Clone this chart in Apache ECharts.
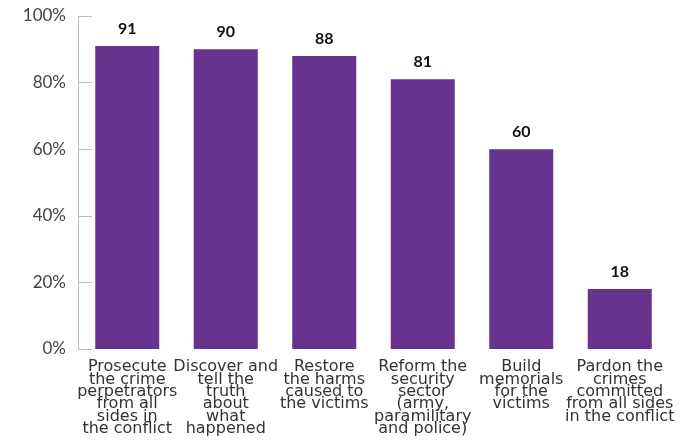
<!DOCTYPE html>
<html><head><meta charset="utf-8">
<script src="https://cdn.jsdelivr.net/npm/echarts@6/dist/echarts.min.js"></script>
<style>html,body{margin:0;padding:0;background:#fff}#c{width:695px;height:444px}</style>
</head><body><div id="c"></div>
<script>
const categories = [
  "Prosecute\nthe crime\nperpetrators\nfrom all\nsides in\nthe conflict",
  "Discover and\ntell the\ntruth\nabout\nwhat\nhappened",
  "Restore\nthe harms\ncaused to\nthe victims",
  "Reform the\nsecurity\nsector\n(army,\nparamilitary\nand police)",
  "Build\nmemorials\nfor the\nvictims",
  "Pardon the\ncrimes\ncommitted\nfrom all sides\nin the conflict"
];
const values = [91, 90, 88, 81, 60, 18];
const yTicks = [0, 20, 40, 60, 80, 100];

const chart = echarts.init(document.getElementById('c'));
chart.setOption({
  animation: false,
  grid: {left: 78, right: 26, top: 16, bottom: 95},
  xAxis: {
    type: 'category', data: categories,
    axisLine: {show: false}, axisTick: {show: false},
    axisLabel: {interval: 0, color: '#333', fontFamily: 'DejaVu Sans', fontSize: 16, lineHeight: 12.3, margin: 12, align: 'center', verticalAlign: 'top'}
  },
  yAxis: {
    type: 'value', min: yTicks[0], max: yTicks[yTicks.length-1], interval: 20,
    axisLine: {show: true, lineStyle: {color: '#bfbfbf'}},
    axisTick: {show: true, inside: true, length: 14, lineStyle: {color: '#bfbfbf'}},
    splitLine: {show: false},
    axisLabel: {formatter: v => v + '%', color: '#444', fontFamily: 'Lato', fontSize: 17, margin: 12}
  },
  series: [{
    type: 'bar', data: values, barWidth: '65%',
    itemStyle: {color: '#66338e'},
    label: {show: true, position: 'top', distance: 9, color: '#111', fontFamily: 'Lato', fontSize: 16, fontWeight: 'bold'}
  }]
});
</script></body></html>
